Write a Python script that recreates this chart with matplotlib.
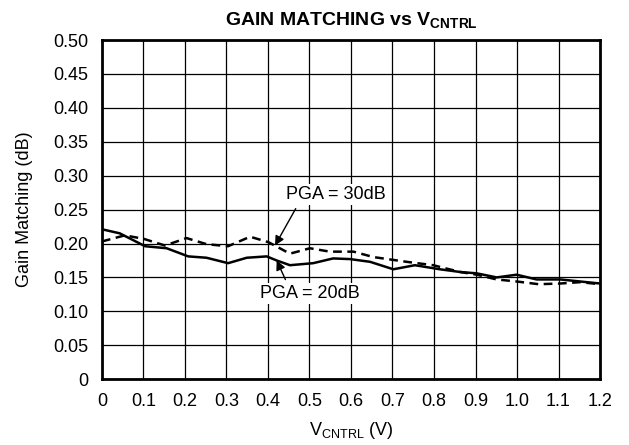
import numpy as np
import matplotlib
matplotlib.use("Agg")
import matplotlib.pyplot as plt

plt.rcParams['font.family'] = ['Liberation Sans', 'DejaVu Sans']
plt.rcParams['mathtext.fontset'] = 'custom'
plt.rcParams['mathtext.rm'] = 'Liberation Sans'
plt.rcParams['mathtext.bf'] = 'Liberation Sans:bold'

# PGA = 20dB (solid)
v20 = [0.0, 0.043, 0.104, 0.156, 0.208, 0.252, 0.304, 0.349, 0.397, 0.421, 0.453,
       0.509, 0.557, 0.598, 0.646, 0.702, 0.754, 0.814, 0.863, 0.903, 0.951,
       0.999, 1.047, 1.104, 1.152, 1.2]
g20 = [0.221, 0.215, 0.196, 0.193, 0.181, 0.179, 0.171, 0.179, 0.181, 0.175, 0.168,
       0.171, 0.178, 0.177, 0.173, 0.162, 0.168, 0.162, 0.158, 0.156, 0.150,
       0.154, 0.147, 0.147, 0.144, 0.141]

# PGA = 30dB (dashed)
v30 = [0.0, 0.055, 0.10, 0.152, 0.204, 0.252, 0.304, 0.357, 0.401, 0.453, 0.501,
       0.549, 0.606, 0.654, 0.734, 0.798, 0.863, 0.903, 0.951, 0.999, 1.052,
       1.104, 1.152, 1.2]
g30 = [0.203, 0.212, 0.207, 0.197, 0.208, 0.199, 0.196, 0.210, 0.202, 0.185, 0.193,
       0.188, 0.188, 0.180, 0.173, 0.168, 0.158, 0.154, 0.147, 0.144, 0.140,
       0.141, 0.143, 0.140]

xticks = np.arange(0, 1.21, 0.1)
xticklabels = ['0', '0.1', '0.2', '0.3', '0.4', '0.5', '0.6', '0.7', '0.8', '0.9', '1.0', '1.1', '1.2']
yticks = np.arange(0, 0.501, 0.05)
yticklabels = ['0'] + ['%.2f' % t for t in yticks[1:]]

fig = plt.figure(figsize=(6.29, 4.45), dpi=100)
ax = fig.add_axes([0.162, 0.148, 0.792, 0.762])

ax.plot(v20, g20, color='black', lw=1.8, solid_joinstyle='round')
ax.plot(v30, g30, color='black', lw=1.8, linestyle=(0, (3.5, 2.2)))

ax.set_xlim(0, 1.2)
ax.set_ylim(0, 0.5)
ax.set_xticks(xticks)
ax.set_xticklabels(xticklabels)
ax.set_yticks(yticks)
ax.set_yticklabels(yticklabels)
ax.tick_params(length=0, labelsize=13)
ax.tick_params(axis='x', pad=10)
ax.tick_params(axis='y', pad=10)
ax.grid(True, color='black', lw=0.9)
ax.set_axisbelow(True)
for s in ax.spines.values():
    s.set_linewidth(2)

ax.annotate('PGA = 30dB', xy=(0.417, 0.197), xytext=(0.443, 0.272),
            ha='left', va='center', fontsize=13,
            arrowprops=dict(arrowstyle='-|>', color='black', lw=1,
                            mutation_scale=14, shrinkA=3, shrinkB=0,
                            relpos=(0.13, 0.0)),
            bbox=dict(boxstyle='square,pad=0.1', fc='white', ec='none'))
ax.annotate('PGA = 20dB', xy=(0.421, 0.175), xytext=(0.381, 0.126),
            ha='left', va='center', fontsize=13,
            arrowprops=dict(arrowstyle='-|>', color='black', lw=1,
                            mutation_scale=14, shrinkA=3, shrinkB=0,
                            relpos=(0.28, 1.0)),
            bbox=dict(boxstyle='square,pad=0.1', fc='white', ec='none'))

ax.set_title(r'GAIN MATCHING vs V$_{\mathbf{CNTRL}}$', fontsize=14, fontweight='bold', pad=10)
ax.set_xlabel(r'V$_{\mathrm{CNTRL}}$ (V)', fontsize=13)
ax.set_ylabel('Gain Matching (dB)', fontsize=13)
ax.xaxis.set_label_coords(0.5, -0.15)
ax.xaxis.label.set_va('center')
ax.yaxis.set_label_coords(-0.155, 0.5)
ax.yaxis.label.set_va('center')

fig.savefig('out.png', dpi=100)
